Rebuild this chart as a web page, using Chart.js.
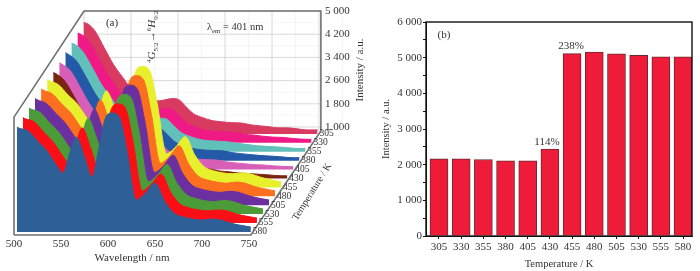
<!DOCTYPE html>
<html>
<head>
<meta charset="utf-8">
<title>Spectra</title>
<script src="https://cdn.jsdelivr.net/npm/chart.js@4"></script>
<style>
  html, body { margin: 0; padding: 0; background: #fff; }
  body { width: 700px; height: 271px; position: relative; overflow: hidden; }
  canvas { filter: blur(0.35px); }
  #spectra { position: absolute; left: 0; top: 0; }
  #bars { position: absolute; left: 380px; top: 0; }
</style>
</head>
<body>
<canvas id="spectra" width="380" height="271"></canvas>
<canvas id="bars" width="320" height="271"></canvas>
<script>
const wavelengths = [503,505,515,525,535,545,552,560,566,575,583,590,597,604,612,620,630,640,650,660,670,680,690,700,710,720,730,740,752];

const s305 = [4595,4590,4320,3730,3150,2700,2390,2180,2110,1970,1900,1940,1980,1950,1700,1460,1320,1220,1180,1150,1140,1080,1040,1010,970,970,940,900,900];
const s330 = [4540,4530,4280,3700,3120,2660,2350,2140,2060,1930,1880,1910,1950,1910,1670,1430,1290,1190,1150,1130,1120,1060,1030,990,960,950,920,890,880];
const s355 = [4500,4490,4220,3670,3080,2630,2320,2110,2030,1910,1850,1880,1920,1890,1650,1420,1280,1180,1140,1120,1100,1050,1010,970,950,930,910,880,870];
const s380 = [4480,4450,4190,3640,3060,2600,2300,2090,2010,1890,1840,1870,1900,1870,1640,1400,1260,1170,1130,1110,1100,1040,1000,970,940,920,900,870,860];
const s405 = [4440,4410,4160,3610,3030,2570,2280,2070,2000,1880,1820,1850,1880,1850,1620,1390,1250,1160,1120,1100,1090,1030,990,960,930,920,890,870,860];
const s430 = [4410,4390,4130,3600,3010,2560,2260,2060,1990,1870,1810,1840,1870,1840,1610,1380,1250,1160,1120,1090,1080,1020,990,950,930,910,890,860,850];
const s455 = [4480,4440,4300,3950,3640,3170,2900,3630,4090,3430,2740,3680,4740,4930,4790,3660,1920,2160,2510,1880,1470,1330,1260,1230,1260,1220,1110,1030,950];
const s480 = [4460,4420,4290,3940,3620,3150,2870,3610,4080,3410,2720,3650,4720,4920,4780,3650,1900,2150,2500,1870,1460,1320,1250,1210,1250,1210,1100,1020,945];
const s505 = [4440,4400,4270,3930,3600,3130,2850,3590,4070,3400,2710,3630,4700,4900,4760,3630,1890,2130,2480,1860,1450,1310,1240,1200,1240,1200,1090,1010,940];
const s530 = [4420,4380,4260,3900,3570,3110,2830,3570,4060,3380,2690,3610,4690,4890,4750,3620,1880,2120,2470,1850,1440,1300,1220,1190,1230,1190,1080,1010,935];
const s555 = [4400,4360,4250,3900,3560,3090,2810,3560,4040,3360,2670,3600,4670,4870,4730,3600,1870,2110,2450,1830,1420,1280,1210,1180,1210,1180,1070,1000,930];
const s580 = [4376,4342,4238,3893,3548,3065,2789,3548,4031,3341,2651,3583,4660,4859,4721,3583,1858,2099,2444,1823,1409,1271,1202,1168,1202,1168,1064,995,926];

const temperatures = [305,330,355,380,405,430,455,480,505,530,555,580];
const allSeries = [s305,s330,s355,s380,s405,s430,s455,s480,s505,s530,s555,s580];
const seriesColors = ['#d93a60','#ef1a86','#62c0ba','#2459a8','#d85fb8','#7b2410','#e8f02e','#fb6f1f','#6b2f9f','#4b9c38','#fb0f17','#2f5f97'];

const wallTicks = [1000,1800,2600,3400,4200,5000];
const wavelengthTicks = [500,550,600,650,700,750];
const barIntensity = [2165,2165,2145,2110,2110,2435,5115,5160,5105,5065,5025,5020];
const intensityTicks = [0,1000,2000,3000,4000,5000,6000];

// depth steps between two neighbouring spectra, in data units
const stepX = 6.45;
const stepY = 307;
const floorI = 760;
const wallShiftX = 74.5;
const frontFloor = -2724;
const backFloor = 862;

const serif = '"Liberation Serif", serif';
const ink = '#333';

function thousands(v) {
  const s = String(v);
  return s.length > 3 ? s.slice(0, -3) + ' ' + s.slice(-3) : s;
}

// text made of runs: normal, sub or sup, written along the current direction
function drawRuns(ctx, x, y, runs, size, angle) {
  ctx.save();
  ctx.translate(x, y);
  ctx.rotate(angle || 0);
  ctx.textAlign = 'left';
  ctx.textBaseline = 'alphabetic';
  let pos = 0;
  runs.forEach(r => {
    const small = r.sub || r.sup;
    ctx.font = (r.italic ? 'italic ' : '') + (small ? size * 0.65 : size) + 'px ' + serif;
    ctx.fillText(r.text, pos, r.sub ? size * 0.28 : (r.sup ? -size * 0.38 : 0));
    pos += ctx.measureText(r.text).width;
  });
  ctx.restore();
}

function lineSet(points, color, width) {
  return {
    data: points, borderColor: color, borderWidth: width, pointRadius: 0,
    fill: false, tension: 0, clip: false
  };
}

const datasets = [];

// front spectrum first so it ends up on top
for (let i = allSeries.length - 1; i >= 0; i--) {
  const d = allSeries.length - 1 - i;
  datasets.push({
    label: temperatures[i] + ' K',
    data: wavelengths.map((w, k) => ({ x: w + d * stepX, y: allSeries[i][k] - i * stepY })),
    borderColor: seriesColors[i],
    backgroundColor: seriesColors[i],
    borderWidth: 1,
    pointRadius: 0,
    cubicInterpolationMode: 'monotone',
    fill: { value: floorI - i * stepY }
  });
}

// frame of the box
datasets.push(lineSet([
  { x: 500, y: frontFloor }, { x: 752, y: frontFloor },
  { x: 752 + wallShiftX, y: backFloor }, { x: 752 + wallShiftX, y: 5000 },
  { x: 500 + wallShiftX, y: 5000 }, { x: 500, y: 1340 }, { x: 500, y: frontFloor }
], '#707070', 1.6));

// back wall grid
wallTicks.forEach(v => {
  datasets.push(lineSet([{ x: 500 + wallShiftX, y: v }, { x: 752 + wallShiftX, y: v }], '#c8c8c8', 0.7));
  datasets.push(lineSet([{ x: 500 + wallShiftX, y: v - 400 }, { x: 752 + wallShiftX, y: v - 400 }], '#ececec', 0.5));
});
wavelengthTicks.forEach(w => {
  datasets.push(lineSet([{ x: w + wallShiftX, y: backFloor }, { x: w + wallShiftX, y: 5000 }], '#c8c8c8', 0.7));
  datasets.push(lineSet([{ x: w + 25 + wallShiftX, y: backFloor }, { x: w + 25 + wallShiftX, y: 5000 }], '#ececec', 0.5));
});

const spectraText = {
  id: 'spectraText',
  afterDraw(chart) {
    const ctx = chart.ctx;
    const xs = chart.scales.x, ys = chart.scales.y;
    ctx.save();
    ctx.fillStyle = ink;
    ctx.textAlign = 'center';
    ctx.textBaseline = 'middle';

    // temperature labels follow the right ends of the spectra
    ctx.font = '9.5px ' + serif;
    temperatures.forEach((t, i) => {
      const d = temperatures.length - 1 - i;
      ctx.fillText(t, xs.getPixelForValue(752 + d * stepX) + 9, ys.getPixelForValue(floorI - i * stepY));
    });

    ctx.font = '11px ' + serif;
    ctx.fillText('(a)', 112, 23);
    ctx.fillText('Wavelength / nm', 132, 258);

    ctx.save();
    ctx.translate(360, 70);
    ctx.rotate(-Math.PI / 2);
    ctx.fillText('Intensity / a.u.', 0, 0);
    ctx.restore();

    ctx.save();
    ctx.translate(312, 192);
    ctx.rotate(-58 * Math.PI / 180);
    ctx.font = '10px ' + serif;
    ctx.fillText('Temperature / K', 0, 0);
    ctx.restore();
    ctx.restore();

    ctx.fillStyle = ink;
    drawRuns(ctx, 207, 30, [{ text: 'λ' }, { text: 'em', sub: true }, { text: ' = 401 nm' }], 10.5);
    drawRuns(ctx, 155, 63, [
      { text: '4', sup: true }, { text: 'G', italic: true }, { text: '5/2', sub: true },
      { text: '→' }, { text: '6', sup: true }, { text: 'H', italic: true }, { text: '9/2', sub: true }
    ], 11, -Math.PI / 2);
  }
};

new Chart(document.getElementById('spectra'), {
  type: 'line',
  data: { datasets: datasets },
  plugins: [spectraText],
  options: {
    responsive: false,
    animation: false,
    layout: { padding: { left: 14, top: 11, right: 0, bottom: 0 } },
    plugins: { legend: { display: false }, tooltip: { enabled: false } },
    scales: {
      x: {
        type: 'linear',
        min: 500,
        max: 826.6,
        grid: { display: false, drawTicks: false },
        border: { display: false },
        afterBuildTicks: s => { s.ticks = wavelengthTicks.map(v => ({ value: v })); },
        afterFit: s => { s.height = 36; },
        ticks: {
          autoSkip: false, maxRotation: 0, padding: 3, color: ink,
          font: { family: serif, size: 11 }
        }
      },
      y: {
        position: 'right',
        min: frontFloor,
        max: 5000,
        grid: { display: false, drawTicks: false },
        border: { display: false },
        afterBuildTicks: s => { s.ticks = wallTicks.map(v => ({ value: v })); },
        afterFit: s => { s.width = 59; },
        ticks: {
          autoSkip: false, padding: 4, color: ink,
          font: { family: serif, size: 11 },
          callback: v => thousands(v)
        }
      }
    }
  }
});

const barNotes = [
  { temperature: 430, text: '114%', shift: -3 },
  { temperature: 455, text: '238%', shift: -1 }
];

const barText = {
  id: 'barText',
  afterDraw(chart) {
    const ctx = chart.ctx;
    const xs = chart.scales.x, ys = chart.scales.y;
    const a = chart.chartArea;
    ctx.save();
    ctx.strokeStyle = '#111';
    ctx.lineWidth = 1.4;
    ctx.strokeRect(a.left, a.top, a.right - a.left, a.bottom - a.top);
    ctx.fillStyle = ink;
    ctx.font = '11px ' + serif;
    ctx.textAlign = 'center';
    ctx.textBaseline = 'bottom';
    barNotes.forEach(n => {
      const v = barIntensity[temperatures.indexOf(n.temperature)];
      ctx.fillText(n.text, xs.getPixelForValue(n.temperature) + n.shift, ys.getPixelForValue(v) - 2);
    });
    ctx.textBaseline = 'middle';
    ctx.fillText('(b)', 64, 35);
    ctx.restore();
  }
};

new Chart(document.getElementById('bars'), {
  type: 'bar',
  data: {
    datasets: [{
      data: temperatures.map((t, i) => ({ x: t, y: barIntensity[i] })),
      backgroundColor: '#ee1c38',
      borderColor: '#6b2a30',
      borderWidth: 1,
      barThickness: 18
    }]
  },
  plugins: [barText],
  options: {
    responsive: false,
    animation: false,
    layout: { padding: { left: 0, top: 22, right: 8, bottom: 0 } },
    plugins: { legend: { display: false }, tooltip: { enabled: false } },
    scales: {
      x: {
        type: 'linear',
        offset: false,
        min: 290.36,
        max: 590.1,
        grid: { offset: false, drawOnChartArea: false, color: '#111', tickLength: 3 },
        border: { color: '#111', width: 1 },
        afterBuildTicks: s => { s.ticks = temperatures.map(v => ({ value: v })); },
        afterFit: s => { s.height = 35; },
        ticks: {
          autoSkip: false, maxRotation: 0, padding: 2, color: ink,
          font: { family: serif, size: 11 }
        },
        title: { display: true, text: 'Temperature / K', color: ink, padding: 0, font: { family: serif, size: 10.5 } }
      },
      y: {
        min: 0,
        max: 6000,
        grid: { drawOnChartArea: false, color: '#111', tickLength: 3 },
        border: { color: '#111', width: 1 },
        afterBuildTicks: s => {
          s.ticks = [];
          for (let v = 0; v <= 6000; v += 500) s.ticks.push({ value: v });
        },
        afterFit: s => { s.width = 46; },
        ticks: {
          autoSkip: false, padding: 1, color: ink,
          font: { family: serif, size: 11 },
          callback: v => intensityTicks.includes(v) ? thousands(v) : ''
        },
        title: { display: true, text: 'Intensity / a.u.', color: ink, padding: 0, font: { family: serif, size: 10.5 } }
      }
    }
  }
});
</script>
</body>
</html>
